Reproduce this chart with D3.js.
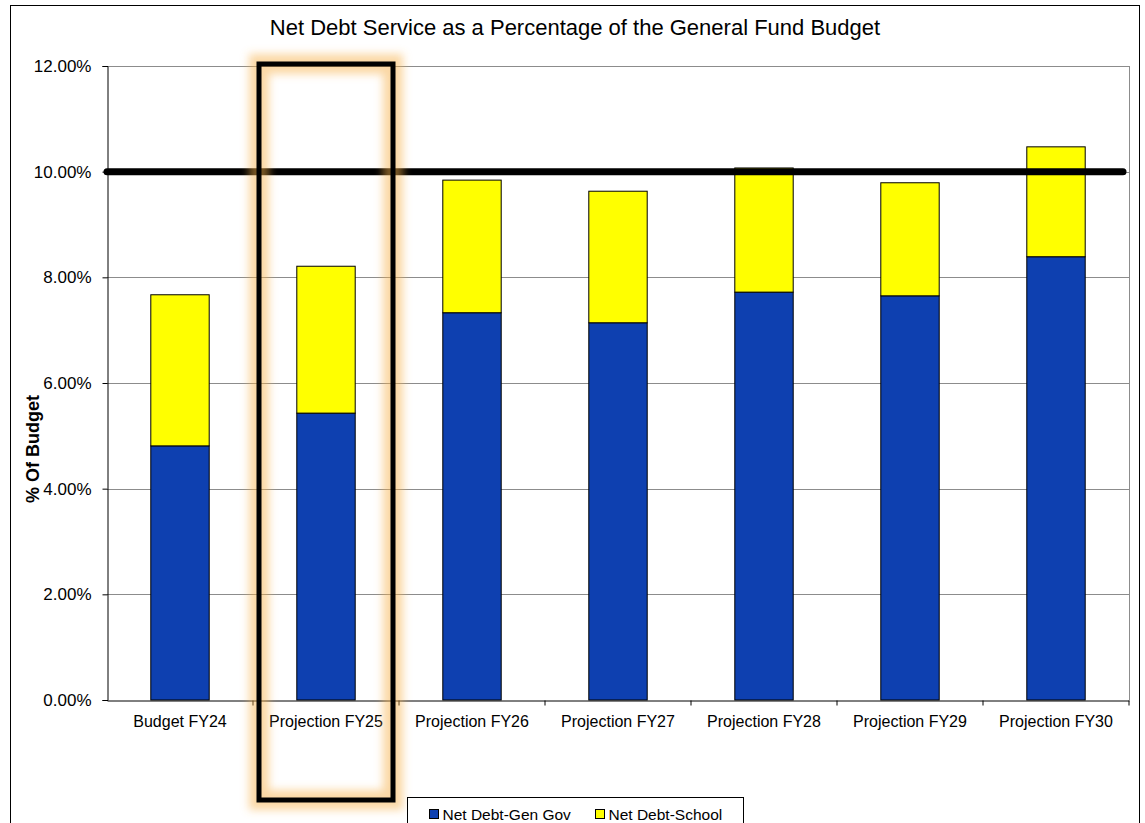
<!DOCTYPE html>
<html>
<head>
<meta charset="UTF-8">
<title>Net Debt Service as a Percentage of the General Fund Budget</title>
<script src="https://cdnjs.cloudflare.com/ajax/libs/d3/7.8.5/d3.min.js"></script>
<style>
body { margin:0; background:#fff; }
text { font-family: Arial, "Liberation Sans", sans-serif; fill:#000; }
.grid line { stroke:#8c8c8c; stroke-width:1; }
.axis path, .axis line { stroke:#000; }
</style>
</head>
<body>
<div id="chart"></div>
<script>
// data
var categories = ["Budget FY24","Projection FY25","Projection FY26","Projection FY27","Projection FY28","Projection FY29","Projection FY30"];
var genGov = [4.81, 5.43, 7.33, 7.14, 7.72, 7.65, 8.39];
var school = [2.86, 2.78, 2.51, 2.49, 2.35, 2.14, 2.08];
var seriesNames = ["Net Debt-Gen Gov","Net Debt-School"];
var seriesColors = ["#0e40b0","#ffff00"];
var yTicks = [0, 2, 4, 6, 8, 10, 12];
var limit = 10;
var highlight = "Projection FY25";

var width = 1145, height = 823;
var margin = {left:107, right:16, top:66, bottom:123};

var svg = d3.select("#chart").append("svg").attr("width", width).attr("height", height);

var defs = svg.append("defs");
defs.append("filter").attr("id","glow").attr("x","-20%").attr("y","-20%").attr("width","140%").attr("height","140%")
  .append("feGaussianBlur").attr("stdDeviation", 4);

// outer frame
svg.append("rect").attr("x",10.5).attr("y",5.5).attr("width",1129).attr("height",830)
  .attr("fill","none").attr("stroke","#000").attr("stroke-width",1);

var x = d3.scaleBand().domain(categories).range([margin.left, width - margin.right]).paddingInner(0.6).paddingOuter(0.3);
var xb = d3.scaleBand().domain(categories).range([margin.left, width - margin.right]);
var y = d3.scaleLinear().domain([0, 12]).range([height - margin.bottom, margin.top]);

// title
svg.append("text").attr("x", 575).attr("y", 35).attr("text-anchor","middle")
  .style("font-size","22px").text("Net Debt Service as a Percentage of the General Fund Budget");

// gridlines
svg.append("g").attr("class","grid").selectAll("line").data(yTicks.filter(function(d){return d>0;})).enter().append("line")
  .attr("x1", margin.left).attr("x2", width - margin.right)
  .attr("y1", function(d){return Math.round(y(d))+0.5;}).attr("y2", function(d){return Math.round(y(d))+0.5;});
// right plot edge
svg.append("line").attr("x1", width - margin.right + 0.5).attr("x2", width - margin.right + 0.5)
  .attr("y1", margin.top).attr("y2", height - margin.bottom).attr("stroke","#8c8c8c");

// stacked bars
var stackData = categories.map(function(c,i){return {cat:c, gen:genGov[i], school:school[i]};});
var stack = d3.stack().keys(["gen","school"])(stackData);
svg.append("g").selectAll("g").data(stack).enter().append("g")
  .attr("fill", function(d,i){return seriesColors[i];})
  .selectAll("rect").data(function(d){return d;}).enter().append("rect")
  .attr("x", function(d){return x(d.data.cat);})
  .attr("width", x.bandwidth())
  .attr("y", function(d){return y(d[1]);})
  .attr("height", function(d){return y(d[0]) - y(d[1]);})
  .attr("stroke","#000").attr("stroke-width",1);

// axes
var yAxis = d3.axisLeft(y).tickValues(yTicks).tickSize(5).tickPadding(11)
  .tickFormat(function(d){return d.toFixed(2)+"%";});
var gy = svg.append("g").attr("class","axis").attr("transform","translate("+(margin.left+0.5)+",0)").call(yAxis);
gy.selectAll("text").style("font-size","17px");

var xAxis = d3.axisBottom(xb).tickSize(0).tickPadding(15);
var gx = svg.append("g").attr("class","axis").attr("transform","translate(0,"+(height - margin.bottom + 0.5)+")").call(xAxis);
gx.selectAll("text").style("font-size","16px");
gx.selectAll(".sep").data(categories).enter().append("line")
  .attr("x1", function(d){return xb(d)+xb.bandwidth();}).attr("x2", function(d){return xb(d)+xb.bandwidth();})
  .attr("y1",0).attr("y2",5).attr("stroke","#000");

// y axis title
svg.append("text").attr("transform","translate(39,"+449+") rotate(-90)").attr("text-anchor","middle")
  .style("font-size","18px").style("font-weight","bold").text("% Of Budget");

// 10% limit line with glow
var ly = y(limit);
svg.append("line").attr("x1", margin.left).attr("x2", width - margin.right - 6).attr("y1", ly).attr("y2", ly)
  .attr("stroke","#f7b24a").attr("stroke-opacity",0.5).attr("stroke-width",20).attr("filter","url(#glow)");
svg.append("line").attr("x1", margin.left).attr("x2", width - margin.right - 6).attr("y1", ly).attr("y2", ly)
  .attr("stroke","#000").attr("stroke-width",7).attr("stroke-linecap","round");

// highlight box around FY25
var hx0 = xb(highlight) + 6, hx1 = xb(highlight) + xb.bandwidth() - 6;
var hy0 = y(12) - 2, hy1 = 800;
svg.append("rect").attr("x", hx0).attr("y", hy0).attr("width", hx1 - hx0).attr("height", hy1 - hy0)
  .attr("fill","none").attr("stroke","#f7b24a").attr("stroke-opacity",0.5).attr("stroke-width",20).attr("filter","url(#glow)");
svg.append("rect").attr("x", hx0).attr("y", hy0).attr("width", hx1 - hx0).attr("height", hy1 - hy0)
  .attr("fill","none").attr("stroke","#000").attr("stroke-width",5);

// legend
var lg = svg.append("g").attr("transform","translate(407.5,797.5)");
lg.append("rect").attr("width",336).attr("height",30).attr("fill","#fff").attr("stroke","#000");
var items = lg.selectAll("g").data(seriesNames).enter().append("g")
  .attr("transform", function(d,i){return "translate("+(i===0?22:188)+",12)";});
items.append("rect").attr("width",9).attr("height",9).attr("fill", function(d,i){return seriesColors[i];}).attr("stroke","#000");
items.append("text").attr("x",13).attr("y",10).style("font-size","15.5px").text(function(d){return d;});
</script>
</body>
</html>
